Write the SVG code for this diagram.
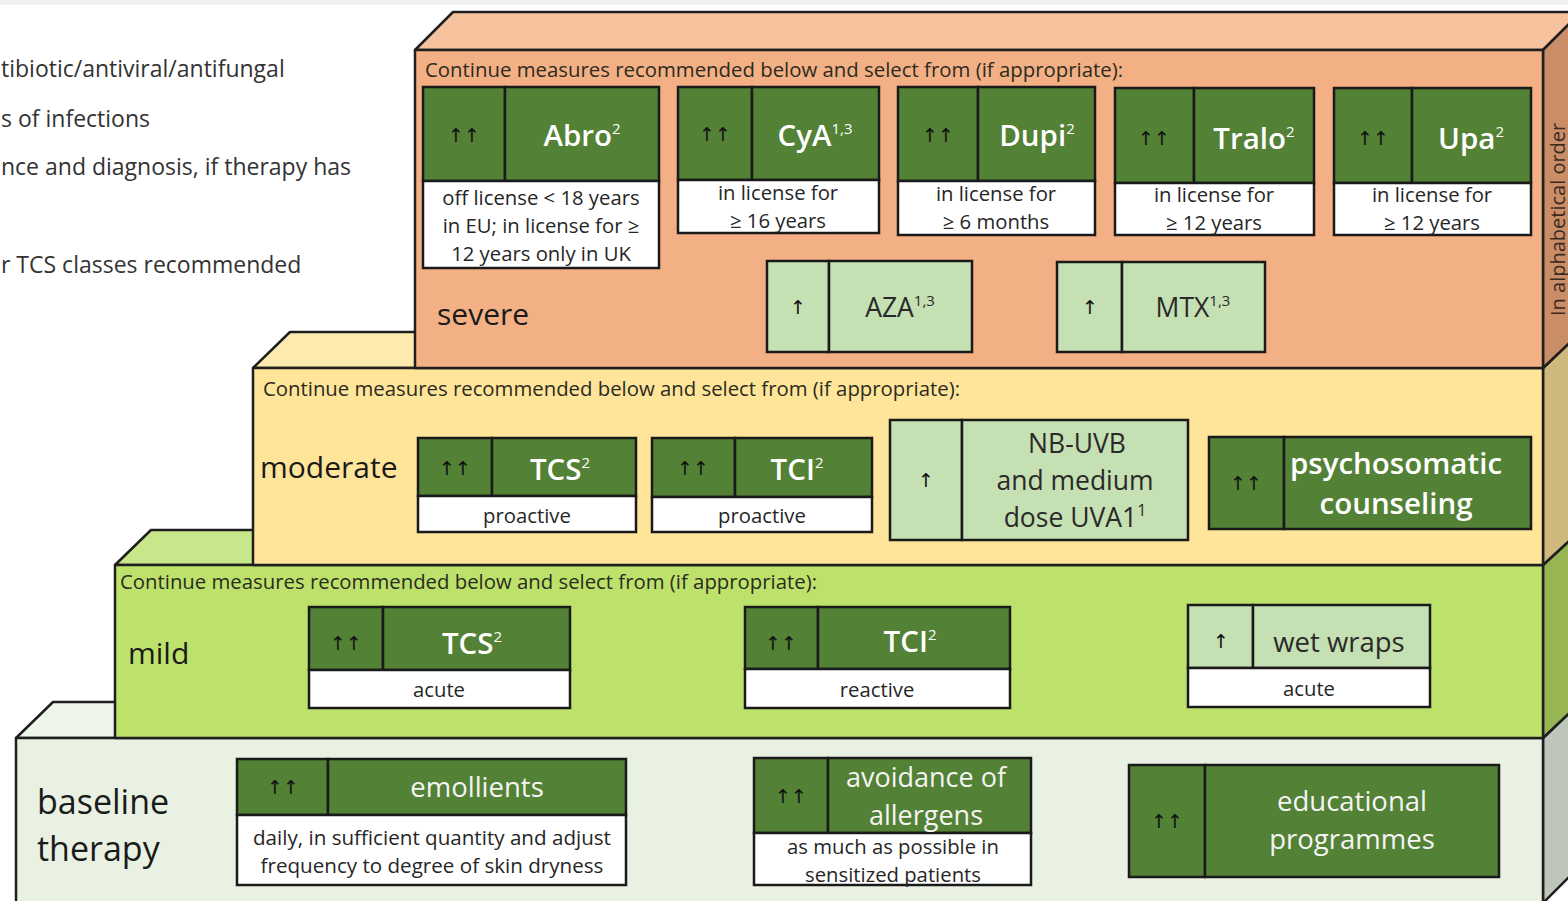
<svg xmlns="http://www.w3.org/2000/svg" width="1568" height="901" viewBox="0 0 1568 901">
<style>
text{font-family:"Open Sans",Lato,"DejaVu Sans",sans-serif;}
.face{stroke:#1f1f1f;stroke-width:2.5;stroke-linejoin:round;}
.g{fill:#538135;stroke:#1a1a1a;stroke-width:2.5;}
.l{fill:#c5e0b3;stroke:#1a1a1a;stroke-width:2.5;}
.w{fill:#ffffff;stroke:#1a1a1a;stroke-width:2.5;}
.ar{font-family:"DejaVu Sans",sans-serif;font-size:19px;fill:#111;text-anchor:middle;}
.mw{font-size:29.5px;font-weight:600;fill:#ffffff;text-anchor:middle;}
.rw{font-size:27.5px;fill:#f4f4f4;text-anchor:middle;}
.md{font-size:26.5px;fill:#2a2a2a;text-anchor:middle;}
.sub{font-size:20.3px;fill:#262626;text-anchor:middle;}
.hd{font-size:19.5px;fill:#2b2b1f;}
.lvl{font-size:30px;fill:#1a1a1a;}
.leg{font-size:23px;fill:#333333;}
.sup{font-size:15px;font-weight:400;}
</style>
<rect x="0" y="0" width="1568" height="5" fill="#efefef"/>
<g id="legend">
<text class="leg" x="1" y="77">tibiotic/antiviral/antifungal</text>
<text class="leg" x="1" y="127">s of infections</text>
<text class="leg" x="1" y="175">nce and diagnosis, if therapy has</text>
<text class="leg" x="1" y="273">r TCS classes recommended</text>
</g>
<g id="level-baseline">
<polygon class="face" fill="#eef5ea" points="16,738 53,702 1581,702 1543,738"/>
<polygon class="face" fill="#bec6b9" points="1543,738 1581,702 1581,865 1543,903"/>
<rect class="face" fill="#e8f1e2" x="16" y="738" width="1527" height="170"/>
<text class="lvl" x="37" y="814" style="font-size:34px">baseline</text>
<text class="lvl" x="37" y="861" style="font-size:34px">therapy</text>
</g>
<g id="level-mild">
<polygon class="face" fill="#c8e68a" points="115,565 151,530 1581,530 1543,565"/>
<polygon class="face" fill="#98b553" points="1543,565 1581,530 1581,702 1543,738"/>
<rect class="face" fill="#bde26c" x="115" y="565" width="1428" height="173"/>
<text class="hd" x="120" y="589" textLength="697" lengthAdjust="spacingAndGlyphs">Continue measures recommended below and select from (if appropriate):</text>
<text class="lvl" x="128" y="664">mild</text>
</g>
<g id="level-moderate">
<polygon class="face" fill="#fdeaae" points="253,368 290,332 1581,332 1543,368"/>
<polygon class="face" fill="#cdb97b" points="1543,368 1581,332 1581,530 1543,565"/>
<rect class="face" fill="#fee599" x="253" y="368" width="1290" height="197"/>
<text class="hd" x="263" y="396" textLength="697" lengthAdjust="spacingAndGlyphs">Continue measures recommended below and select from (if appropriate):</text>
<text class="lvl" x="260" y="478">moderate</text>
</g>
<g id="level-severe">
<polygon class="face" fill="#f6c39e" points="415,50 453,12 1581,12 1543,50"/>
<polygon class="face" fill="#c98e68" points="1543,50 1581,12 1581,332 1543,368"/>
<rect class="face" fill="#f3b084" x="415" y="50" width="1128" height="318"/>
<text class="hd" x="425" y="77" textLength="698" lengthAdjust="spacingAndGlyphs">Continue measures recommended below and select from (if appropriate):</text>
<text class="lvl" x="437" y="325">severe</text>
<text transform="translate(1565,316) rotate(-90)" font-size="20" fill="#3a2a20">In alphabetical order</text>
</g>
<g id="node-abro">
<rect class="g" x="423" y="87" width="82" height="94"/><rect class="g" x="505" y="87" width="154" height="94"/>
<rect class="w" x="423" y="181" width="236" height="87"/>
<text class="ar" x="464" y="142">↑↑</text>
<text class="mw" x="582" y="146">Abro<tspan class="sup" dy="-12">2</tspan></text>
<text class="sub" x="541" y="205">off license &lt; 18 years</text>
<text class="sub" x="541" y="233">in EU; in license for ≥</text>
<text class="sub" x="541" y="261">12 years only in UK</text>
</g>
<g id="node-cya">
<rect class="g" x="678" y="87" width="74" height="93"/><rect class="g" x="752" y="87" width="127" height="93"/>
<rect class="w" x="678" y="180" width="201" height="53"/>
<text class="ar" x="715" y="141">↑↑</text>
<text class="mw" x="815" y="146">CyA<tspan class="sup" dy="-12">1,3</tspan></text>
<text class="sub" x="778" y="200">in license for</text>
<text class="sub" x="778" y="228">≥ 16 years</text>
</g>
<g id="node-dupi">
<rect class="g" x="898" y="87" width="80" height="94"/><rect class="g" x="978" y="87" width="117" height="94"/>
<rect class="w" x="898" y="181" width="197" height="54"/>
<text class="ar" x="938" y="142">↑↑</text>
<text class="mw" x="1037" y="146">Dupi<tspan class="sup" dy="-12">2</tspan></text>
<text class="sub" x="996" y="201">in license for</text>
<text class="sub" x="996" y="229">≥ 6 months</text>
</g>
<g id="node-tralo">
<rect class="g" x="1115" y="88" width="79" height="95"/><rect class="g" x="1194" y="88" width="120" height="95"/>
<rect class="w" x="1115" y="183" width="199" height="52"/>
<text class="ar" x="1154" y="145">↑↑</text>
<text class="mw" x="1254" y="149">Tralo<tspan class="sup" dy="-12">2</tspan></text>
<text class="sub" x="1214" y="202">in license for</text>
<text class="sub" x="1214" y="230">≥ 12 years</text>
</g>
<g id="node-upa">
<rect class="g" x="1334" y="88" width="78" height="95"/><rect class="g" x="1412" y="88" width="119" height="95"/>
<rect class="w" x="1334" y="183" width="197" height="52"/>
<text class="ar" x="1373" y="145">↑↑</text>
<text class="mw" x="1471" y="149">Upa<tspan class="sup" dy="-12">2</tspan></text>
<text class="sub" x="1432" y="202">in license for</text>
<text class="sub" x="1432" y="230">≥ 12 years</text>
</g>
<g id="node-aza">
<rect class="l" x="767" y="261" width="62" height="91"/><rect class="l" x="829" y="261" width="143" height="91"/>
<text class="ar" x="798" y="314">↑</text>
<text class="md" x="900" y="317">AZA<tspan class="sup" dy="-11">1,3</tspan></text>
</g>
<g id="node-mtx">
<rect class="l" x="1057" y="262" width="65" height="90"/><rect class="l" x="1122" y="262" width="143" height="90"/>
<text class="ar" x="1090" y="314">↑</text>
<text class="md" x="1193" y="317">MTX<tspan class="sup" dy="-11">1,3</tspan></text>
</g>
<g id="node-tcs-proactive">
<rect class="g" x="418" y="438" width="74" height="58"/><rect class="g" x="492" y="438" width="144" height="58"/>
<rect class="w" x="418" y="496" width="218" height="36"/>
<text class="ar" x="455" y="475">↑↑</text>
<text class="mw" x="560" y="480">TCS<tspan class="sup" dy="-12">2</tspan></text>
<text class="sub" x="527" y="523">proactive</text>
</g>
<g id="node-tci-proactive">
<rect class="g" x="652" y="438" width="83" height="59"/><rect class="g" x="735" y="438" width="137" height="59"/>
<rect class="w" x="652" y="497" width="220" height="35"/>
<text class="ar" x="693" y="475">↑↑</text>
<text class="mw" x="797" y="480">TCI<tspan class="sup" dy="-12">2</tspan></text>
<text class="sub" x="762" y="523">proactive</text>
</g>
<g id="node-nbuvb">
<rect class="l" x="890" y="420" width="72" height="120"/><rect class="l" x="962" y="420" width="226" height="120"/>
<text class="ar" x="926" y="487">↑</text>
<text class="md" x="1077" y="453">NB-UVB</text>
<text class="md" x="1075" y="490">and medium</text>
<text class="md" x="1075" y="527">dose UVA1<tspan class="sup" style="font-size:16px" dy="-11">1</tspan></text>
</g>
<g id="node-psychosomatic">
<rect class="g" x="1209" y="437" width="75" height="92"/><rect class="g" x="1284" y="437" width="247" height="92"/>
<text class="ar" x="1246" y="490">↑↑</text>
<text class="mw" x="1396" y="474">psychosomatic</text>
<text class="mw" x="1396" y="514">counseling</text>
</g>
<g id="node-tcs-acute">
<rect class="g" x="309" y="607" width="74" height="63"/><rect class="g" x="383" y="607" width="187" height="63"/>
<rect class="w" x="309" y="670" width="261" height="38"/>
<text class="ar" x="346" y="650">↑↑</text>
<text class="mw" x="472" y="654">TCS<tspan class="sup" dy="-12">2</tspan></text>
<text class="sub" x="439" y="697">acute</text>
</g>
<g id="node-tci-reactive">
<rect class="g" x="745" y="607" width="73" height="62"/><rect class="g" x="818" y="607" width="192" height="62"/>
<rect class="w" x="745" y="669" width="265" height="39"/>
<text class="ar" x="781" y="650">↑↑</text>
<text class="mw" x="910" y="652">TCI<tspan class="sup" dy="-12">2</tspan></text>
<text class="sub" x="877" y="697">reactive</text>
</g>
<g id="node-wetwraps">
<rect class="l" x="1188" y="605" width="65" height="63"/><rect class="l" x="1253" y="605" width="177" height="63"/>
<rect class="w" x="1188" y="668" width="242" height="39"/>
<text class="ar" x="1221" y="648">↑</text>
<text class="md" x="1339" y="652" style="font-size:27.5px">wet wraps</text>
<text class="sub" x="1309" y="696">acute</text>
</g>
<g id="node-emollients">
<rect class="g" x="237" y="759" width="91" height="56"/><rect class="g" x="328" y="759" width="298" height="56"/>
<rect class="w" x="237" y="815" width="389" height="70"/>
<text class="ar" x="283" y="794">↑↑</text>
<text class="rw" x="477" y="797">emollients</text>
<text class="sub" x="432" y="845" style="font-size:20.6px">daily, in sufficient quantity and adjust</text>
<text class="sub" x="432" y="873" style="font-size:20.6px">frequency to degree of skin dryness</text>
</g>
<g id="node-avoidance">
<rect class="g" x="754" y="758" width="74" height="75"/><rect class="g" x="828" y="758" width="203" height="75"/>
<rect class="w" x="754" y="833" width="277" height="52"/>
<text class="ar" x="791" y="803">↑↑</text>
<text class="rw" x="926" y="787" style="font-size:27px">avoidance of</text>
<text class="rw" x="926" y="825" style="font-size:27px">allergens</text>
<text class="sub" x="893" y="854">as much as possible in</text>
<text class="sub" x="893" y="882">sensitized patients</text>
</g>
<g id="node-educational">
<rect class="g" x="1129" y="765" width="76" height="112"/><rect class="g" x="1205" y="765" width="294" height="112"/>
<text class="ar" x="1167" y="828">↑↑</text>
<text class="rw" x="1352" y="811">educational</text>
<text class="rw" x="1352" y="849">programmes</text>
</g>
<g id="connectors"></g>
</svg>
